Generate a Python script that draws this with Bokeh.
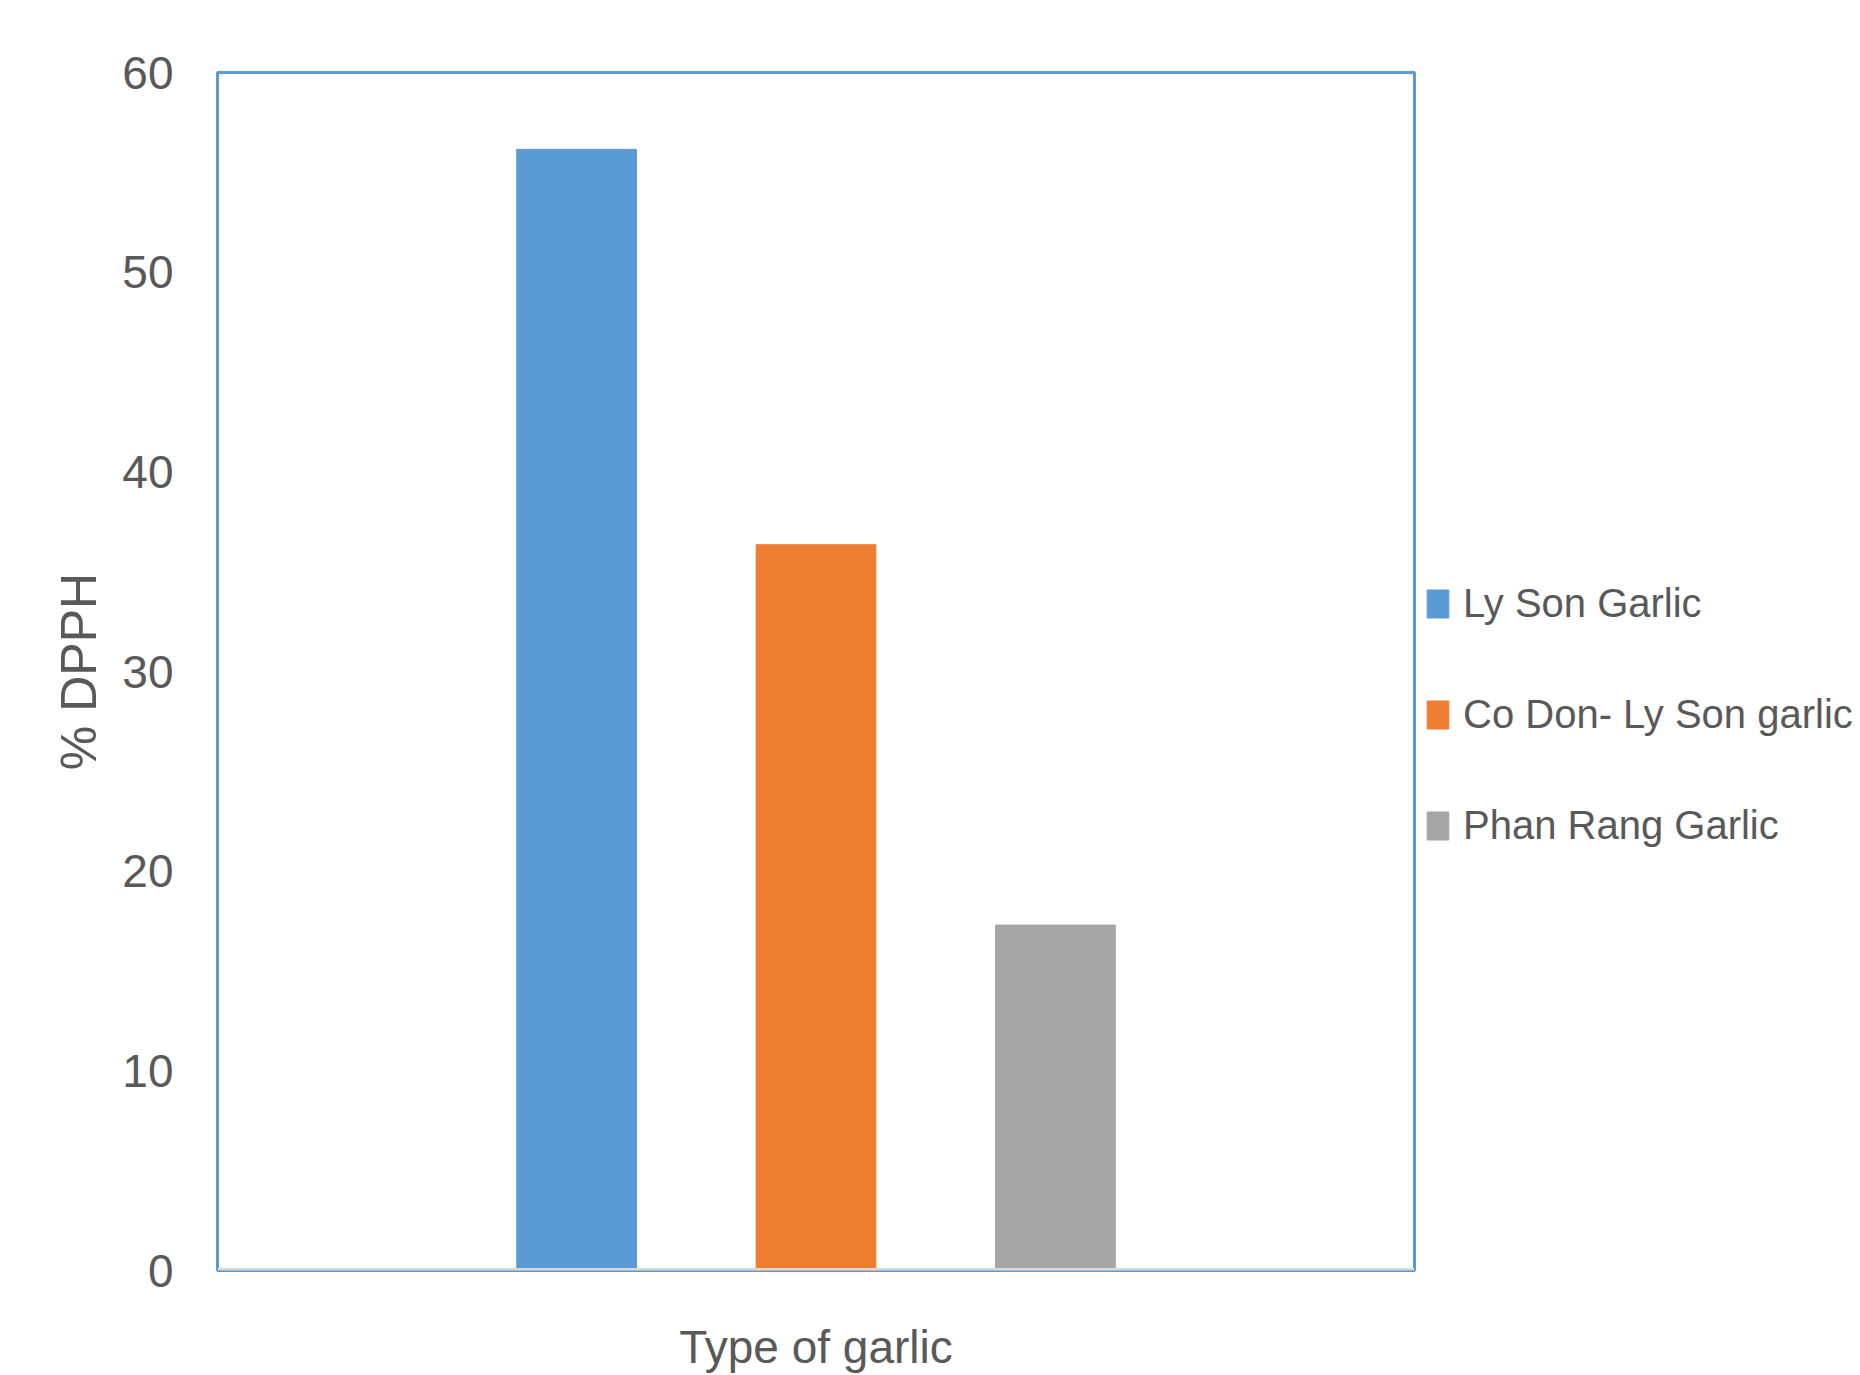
from bokeh.plotting import figure
from bokeh.layouts import row
from bokeh.models import ColumnDataSource, FactorRange, Range1d, Legend, LegendItem, Span
from bokeh.embed import file_html
from bokeh.resources import INLINE

categories = ["Ly Son Garlic", "Co Don- Ly Son garlic", "Phan Rang Garlic"]
values = [56.15, 36.35, 17.3]
colors = ["#5b9bd5", "#ed7d31", "#a5a5a5"]
y_ticks = [0, 10, 20, 30, 40, 50, 60]
x_title = "Type of garlic"
y_title = "% DPPH"

FONT = "Liberation Sans"
TXT = "#595959"

src = ColumnDataSource(dict(cat=categories, val=values, color=colors))

p = figure(
    width=1418, height=1375,
    x_range=FactorRange(*categories, range_padding=1, range_padding_units="absolute"),
    y_range=Range1d(0, 60),
    output_backend="svg", toolbar_location=None,
    min_border_left=217, min_border_right=4, min_border_top=72, min_border_bottom=103,
    background_fill_color="white", border_fill_color="white",
)
p.grid.visible = False
p.outline_line_color = "#5b9bd5"
p.outline_line_width = 3

r = p.vbar(x="cat", top="val", width=0.5, color="color", source=src)

base = Span(location=0, dimension="width", line_color="#d9d9d9", line_width=5, level="overlay")
p.add_layout(base)

ya = p.yaxis[0]
ya.ticker = y_ticks
ya.axis_line_color = None
ya.major_tick_line_color = None
ya.minor_tick_line_color = None
ya.major_label_standoff = 38
ya.major_label_text_font = FONT
ya.major_label_text_font_size = "46px"
ya.major_label_text_color = TXT
ya.axis_label = y_title
ya.axis_label_text_font = FONT
ya.axis_label_text_font_style = "normal"
ya.axis_label_text_font_size = "50px"
ya.axis_label_text_color = TXT
ya.axis_label_standoff = 12

xa = p.xaxis[0]
xa.ticker = []
xa.axis_line_color = None
xa.major_tick_line_color = None
xa.minor_tick_line_color = None
xa.major_label_standoff = 0
xa.axis_label = x_title
xa.axis_label_text_font = FONT
xa.axis_label_text_font_style = "normal"
xa.axis_label_text_font_size = "46px"
xa.axis_label_text_color = TXT
xa.axis_label_standoff = 50

# legend lives in a narrow companion figure to the right of the chart
lg = figure(
    width=442, height=1375,
    x_range=FactorRange(*categories), y_range=Range1d(0, 60),
    output_backend="svg", toolbar_location=None,
    x_axis_location=None, y_axis_location=None,
    min_border_left=0, min_border_right=0, min_border_top=0, min_border_bottom=0,
    outline_line_color=None, background_fill_color="white", border_fill_color="white",
)
lg.grid.visible = False
lr = lg.vbar(x="cat", top="val", width=0.5, color="color", source=src, visible=False)

items = [LegendItem(label=c, renderers=[lr], index=i) for i, c in enumerate(categories)]
legend = Legend(
    items=items, location=(6, 422),
    border_line_color=None, background_fill_alpha=0,
    padding=0, margin=0, spacing=66,
    glyph_width=27, glyph_height=35, label_standoff=12,
    label_text_font=FONT, label_text_font_size="40px", label_text_color=TXT,
)
lg.add_layout(legend, "center")

layout = row(p, lg, spacing=0)
open("out.html", "w").write(file_html(layout, INLINE))
